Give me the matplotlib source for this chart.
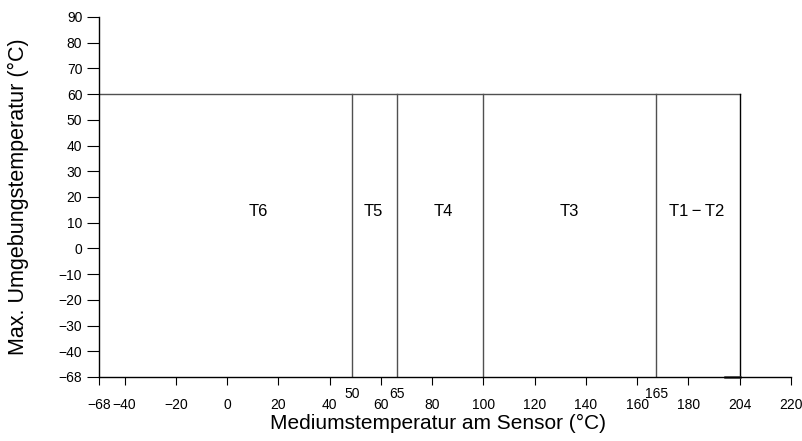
import matplotlib.pyplot as plt
import numpy as np

plt.rcParams['font.family'] = ['Liberation Sans', 'DejaVu Sans']

# axis values and where the drawing places them (the axis is not linear)
x_anchor_val = [-68, -40, 40, 50, 60, 65, 80, 160, 165, 180, 204, 220]
x_anchor_pos = [-50, -40, 40, 48.7, 60, 66.2, 80, 160, 167.5, 180, 200, 220]
y_anchor_val = [-68, -40, 90]
y_anchor_pos = [-50, -40, 90]

x_ticks = [-68, -40, -20, 0, 20, 40, 60, 80, 100, 120, 140, 160, 180, 204, 220]
x_special = [50, 65, 165]
y_ticks = [-68, -40, -30, -20, -10, 0, 10, 20, 30, 40, 50, 60, 70, 80, 90]

# temperature class borders (medium temperature) and max ambient temperature
borders = [50, 65, 100, 165, 204]
t_ambient_max = 60
t_min = -68

classes = ['T6', 'T5', 'T4', 'T3', 'T1\u2009\u2212\u2009T2']
class_x = [12, 57.5, 84.5, 133.5, 184]
class_y = 14.5


def fx(x):
    return np.interp(x, x_anchor_val, x_anchor_pos)


def fx_inv(x):
    return np.interp(x, x_anchor_pos, x_anchor_val)


def fy(y):
    return np.interp(y, y_anchor_val, y_anchor_pos)


def fy_inv(y):
    return np.interp(y, y_anchor_pos, y_anchor_val)


fig = plt.figure(figsize=(8.03, 4.41), dpi=100)
ax = fig.add_axes([99 / 803, 1 - 377 / 441, (791 - 99) / 803, (377 - 17) / 441])
ax.set_xscale('function', functions=(fx, fx_inv))
ax.set_yscale('function', functions=(fy, fy_inv))
ax.set_xlim(-68, 220)
ax.set_ylim(-68, 90)

# limit line and class borders
ax.plot([t_min, borders[-1]], [t_ambient_max, t_ambient_max], color='#505050', lw=1.0)
for b in borders[:-1]:
    ax.plot([b, b], [t_min, t_ambient_max], color='#505050', lw=1.0)
ax.plot([borders[-1], borders[-1]], [t_min, t_ambient_max], color='black', lw=1.0)
ax.plot([197, 204], [t_min, t_min], color='#333333', lw=1.8, clip_on=False)

for name, cx in zip(classes, class_x):
    ax.text(cx, class_y, name, ha='center', va='center', fontsize=12)

for s in ['top', 'right']:
    ax.spines[s].set_visible(False)
ax.spines['left'].set_linewidth(1.0)
ax.spines['bottom'].set_linewidth(1.0)

ax.set_xticks(x_ticks)
ax.set_xticklabels([str(v).replace('-', '\u2212') for v in x_ticks])
ax.set_xticks(x_special, minor=True)
ax.set_xticklabels([str(v) for v in x_special], minor=True)
ax.set_yticks(y_ticks)
ax.set_yticklabels([str(v).replace('-', '\u2212') for v in y_ticks])
ax.yaxis.set_minor_locator(plt.NullLocator())

ax.tick_params(axis='x', which='major', length=6, pad=9, labelsize=10)
ax.tick_params(axis='x', which='minor', length=0, pad=7, labelsize=10)
ax.tick_params(axis='y', which='major', length=8.5, pad=3.5, labelsize=10)

fig.text(18 / 803, 1 - 197 / 441, 'Max. Umgebungstemperatur (\u00b0C)', rotation=90,
         ha='center', va='center', fontsize=15.5)
fig.text(438 / 803, 1 - 423 / 441, 'Mediumstemperatur am Sensor (\u00b0C)',
         ha='center', va='center', fontsize=15)

fig.savefig('out.png', dpi=100)
